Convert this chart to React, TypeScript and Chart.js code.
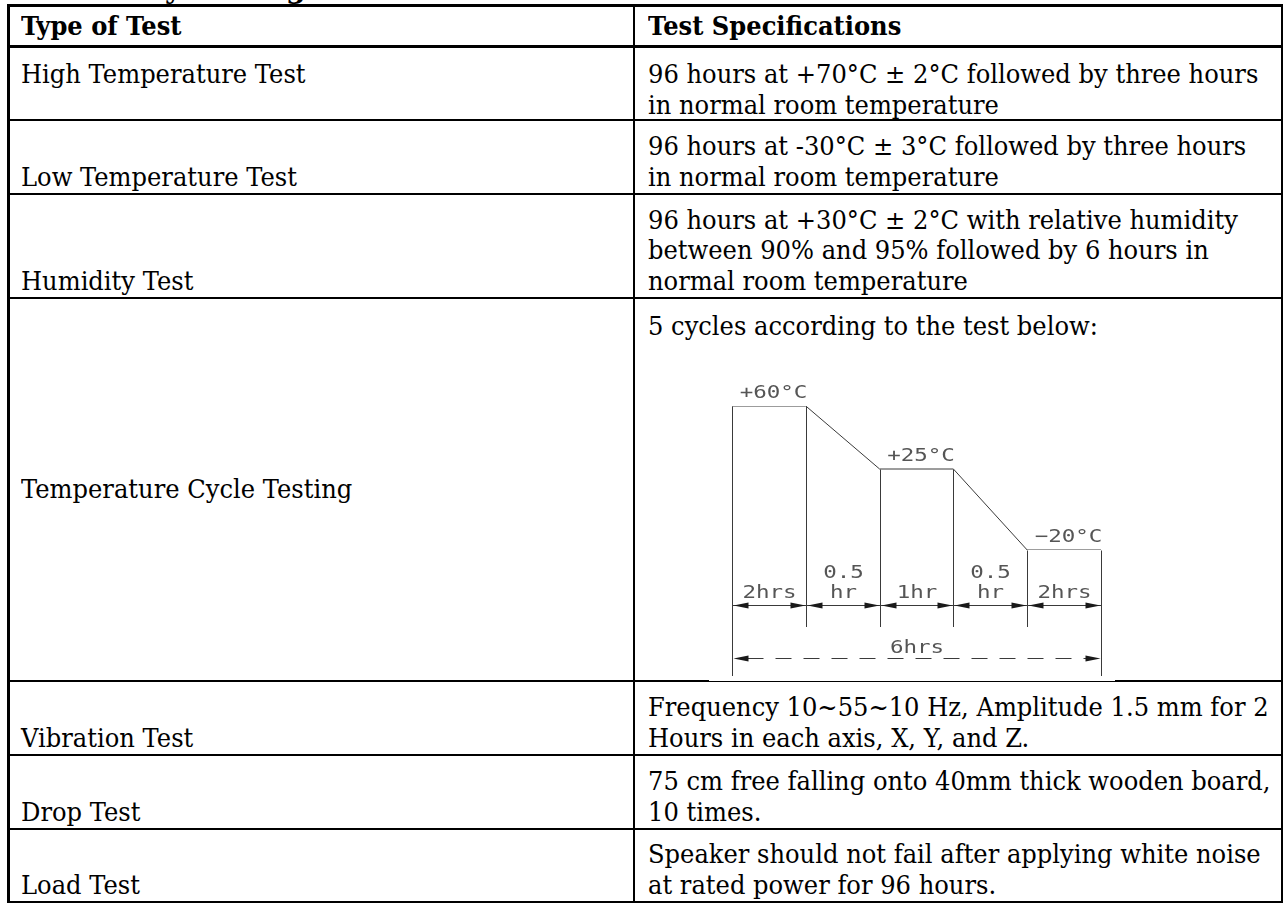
import React, { useEffect, useRef } from 'react';
import { Chart, registerables } from 'chart.js';

Chart.register(...registerables);

// ---- Temperature cycle profile (diagram data) ----
const cycleTimes = ['0', '2', '2.5', '3.5', '4', '6']; // hours, segment boundaries
const cycleTemps = [60, 60, 25, 25, -20, -20]; // °C at each boundary
const segmentLabels = [['2hrs'], ['0.5', 'hr'], ['1hr'], ['0.5', 'hr'], ['2hrs']];
const plateauLabels = ['+60°C', '', '+25°C', '', '−20°C'];
const totalLabel = '6hrs';

// ---- Table content ----
const titleText = 'Reliability Testing';
const headerLabels = ['Type of Test', 'Test Specifications'];
const testTypes = [
  'High Temperature Test',
  'Low Temperature Test',
  'Humidity Test',
  'Temperature Cycle Testing',
  'Vibration Test',
  'Drop Test',
  'Load Test',
];
const testSpecs = [
  ['96 hours at +70°C ± 2°C followed by three hours', 'in normal room temperature'],
  ['96 hours at -30°C ± 3°C followed by three hours', 'in normal room temperature'],
  ['96 hours at +30°C ± 2°C with relative humidity', 'between 90% and 95% followed by 6 hours in', 'normal room temperature'],
  ['5 cycles according to the test below:'],
  ['Frequency 10~55~10 Hz, Amplitude 1.5 mm for 2', 'Hours in each axis, X, Y, and Z.'],
  ['75 cm free falling onto 40mm thick wooden board,', '10 times.'],
  ['Speaker should not fail after applying white noise', 'at rated power for 96 hours.'],
];

// ---- layout ----
const rowEdges = [5, 45, 119, 193, 297, 680, 754, 828, 901];
const leftX = 7;
const divX = 633;
const rightX = 1281;
const FONT = '"DejaVu Serif", serif';
const FS = 25.4;
const LH = 30.5;
const SQUEEZE = 'scaleX(0.953)';

const dimPlugin = {
  id: 'dimensions',
  afterDatasetsDraw(chart: any) {
    const { ctx, chartArea, scales } = chart;
    const xs = scales.x;
    const ys = scales.y;
    const n = cycleTemps.length;
    const px = cycleTemps.map((_, i) => Math.round(xs.getPixelForValue(i)) + 0.5);
    const py = cycleTemps.map((t) => Math.round(ys.getPixelForValue(t)) + 0.5);
    const b = chartArea.bottom;
    const dimY = Math.round(b + 55) + 0.5;
    const extInner = b + 77;
    const extOuter = b + 126;
    const totY = Math.round(b + 108) + 0.5;
    const line = (x1: number, y1: number, x2: number, y2: number) => {
      ctx.beginPath();
      ctx.moveTo(x1, y1);
      ctx.lineTo(x2, y2);
      ctx.stroke();
    };
    const arrow = (x: number, y: number, dir: number) => {
      const len = 15;
      const hw = 3;
      ctx.beginPath();
      ctx.moveTo(x, y);
      ctx.lineTo(x - dir * len, y - hw);
      ctx.lineTo(x - dir * len, y + hw);
      ctx.closePath();
      ctx.fill();
    };
    const text = (t: string, x: number, y: number) => {
      ctx.save();
      ctx.translate(x, y);
      ctx.scale(1.25, 1);
      ctx.fillText(t, 0, 0);
      ctx.restore();
    };
    ctx.save();
    ctx.strokeStyle = '#3a3a3a';
    ctx.fillStyle = '#1a1a1a';
    ctx.lineWidth = 1;
    px.forEach((x, i) => {
      const end = i === 0 || i === n - 1 ? extOuter : extInner;
      line(x, py[i], x, end);
    });
    line(px[0], dimY, px[n - 1], dimY);
    for (let i = 0; i < n - 1; i++) {
      arrow(px[i] + 1, dimY, -1);
      arrow(px[i + 1] - 1, dimY, 1);
    }
    ctx.setLineDash([16, 12]);
    line(px[0] + 15, totY, px[n - 1] - 15, totY);
    ctx.setLineDash([]);
    arrow(px[0] + 1, totY, -1);
    arrow(px[n - 1] - 1, totY, 1);

    ctx.fillStyle = '#555';
    ctx.font = '18px "DejaVu Sans Mono"';
    ctx.textAlign = 'center';
    ctx.textBaseline = 'alphabetic';
    for (let i = 0; i < n - 1; i++) {
      const cx = (px[i] + px[i + 1]) / 2;
      const lines = segmentLabels[i];
      lines.forEach((t, k) => {
        text(t, cx, dimY - 8 - (lines.length - 1 - k) * 20);
      });
      if (plateauLabels[i]) {
        text(plateauLabels[i], cx + 4, py[i] - 9);
      }
    }
    text(totalLabel, (px[0] + px[n - 1]) / 2, totY - 6);
    ctx.restore();
  },
};

function CycleChart() {
  const ref = useRef<HTMLCanvasElement>(null);
  useEffect(() => {
    if (!ref.current) return;
    const chart = new Chart(ref.current, {
      type: 'line',
      data: {
        labels: cycleTimes,
        datasets: [
          {
            data: cycleTemps,
            borderColor: '#3a3a3a',
            borderWidth: 1,
            pointRadius: 0,
            tension: 0,
            fill: false,
          },
        ],
      },
      options: {
        animation: false,
        responsive: false,
        devicePixelRatio: 1,
        layout: { padding: { left: 23, right: 14, top: 34, bottom: 131 } },
        plugins: { legend: { display: false }, tooltip: { enabled: false } },
        scales: {
          x: { type: 'category', display: false, offset: false },
          y: { type: 'linear', display: false, min: -20, max: 60 },
        },
      },
      plugins: [dimPlugin],
    });
    return () => chart.destroy();
  }, []);
  return (
    <canvas
      ref={ref}
      width={406}
      height={309}
      style={{ position: 'absolute', left: 709, top: 372, width: 406, height: 309, background: '#fff' }}
    />
  );
}

export default function App() {
  const hLine = (y: number, th: number, key: string) => (
    <div key={key} style={{ position: 'absolute', left: leftX, top: y, width: rightX + 2 - leftX, height: th, background: '#000' }} />
  );
  const vLine = (x: number, th: number, key: string) => (
    <div key={key} style={{ position: 'absolute', left: x, top: rowEdges[0], width: th, height: rowEdges[rowEdges.length - 1] + 2 - rowEdges[0], background: '#000' }} />
  );
  const cells: any[] = [];
  const squeeze = { transform: SQUEEZE, transformOrigin: 'left center' };
  cells.push(
    <div key="h0" style={{ position: 'absolute', left: 21, top: rowEdges[0] + 3, height: rowEdges[1] - rowEdges[0] - 3, display: 'flex', alignItems: 'center', fontWeight: 'bold', whiteSpace: 'nowrap', ...squeeze }}>{headerLabels[0]}</div>,
    <div key="h1" style={{ position: 'absolute', left: 648, top: rowEdges[0] + 3, height: rowEdges[1] - rowEdges[0] - 3, display: 'flex', alignItems: 'center', fontWeight: 'bold', whiteSpace: 'nowrap', ...squeeze }}>{headerLabels[1]}</div>
  );
  testTypes.forEach((label, i) => {
    const top = rowEdges[i + 1] + 2;
    const h = rowEdges[i + 2] - rowEdges[i + 1] - 2;
    const labelAlign = i === 0 ? 'flex-start' : i === 3 ? 'center' : 'flex-end';
    const specAlign = i === 0 || i === 3 ? 'flex-start' : 'flex-end';
    const padTop = 12;
    cells.push(
      <div key={'l' + i} style={{ position: 'absolute', left: 21, top, height: h, boxSizing: 'border-box', paddingTop: i === 0 ? padTop : 0, paddingBottom: 1, display: 'flex', flexDirection: 'column', justifyContent: labelAlign, whiteSpace: 'nowrap', ...squeeze }}>
        <div>{label}</div>
      </div>,
      <div key={'s' + i} style={{ position: 'absolute', left: 648, top, height: h, boxSizing: 'border-box', paddingTop: specAlign === 'flex-start' ? padTop : 0, paddingBottom: 1, display: 'flex', flexDirection: 'column', justifyContent: specAlign, whiteSpace: 'nowrap', ...squeeze }}>
        {testSpecs[i].map((t, k) => (
          <div key={k}>{t}</div>
        ))}
      </div>
    );
  });
  const lines: any[] = [];
  rowEdges.forEach((y, i) => lines.push(hLine(i === 0 ? y - 1 : y, i === 0 || i === 1 ? 3 : 2, 'hl' + i)));
  lines.push(vLine(leftX, 3, 'vl0'), vLine(divX, 2, 'vl1'), vLine(rightX, 2, 'vl2'));
  return (
    <div style={{ position: 'absolute', left: 0, top: 0, width: 1285, height: 903, overflow: 'hidden', background: '#fff', fontFamily: FONT, fontSize: FS, lineHeight: LH + 'px', color: '#000' }}>
      <div style={{ position: 'absolute', left: 20, top: -25, fontSize: 28, lineHeight: '28px', fontWeight: 'bold', whiteSpace: 'nowrap' }}>{titleText}</div>
      {cells}
      {lines}
      <CycleChart />
    </div>
  );
}
